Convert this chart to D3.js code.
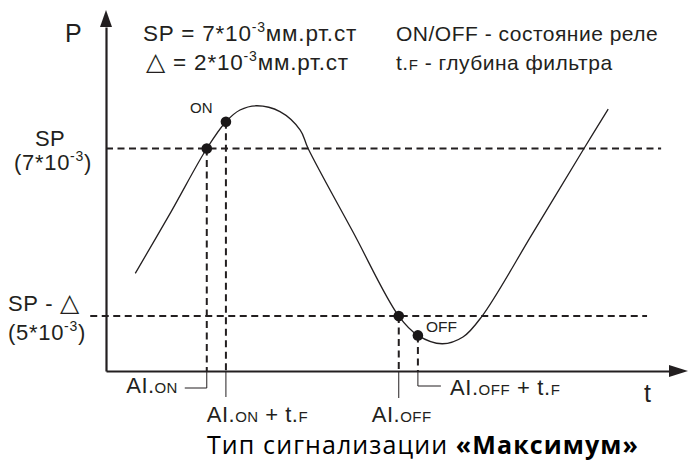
<!DOCTYPE html>
<html>
<head>
<meta charset="utf-8">
<script src="https://cdn.jsdelivr.net/npm/d3@7"></script>
<style>
    html, body { margin: 0; padding: 0; background: #fff; }
    svg text { font-family: "Liberation Sans", Arial, sans-serif; fill: #231f20; }
    .axis path { stroke: #231f20; stroke-width: 2.2; fill: none; }
    .dash { stroke: #231f20; stroke-width: 2; stroke-dasharray: 7,4.5; fill: none; }
    .leader { stroke: #231f20; stroke-width: 1; fill: none; }
    .signal { stroke: #231f20; stroke-width: 1.3; fill: none; }
</style>
</head>
<body>
<div id="chart"></div>
<script>
// Time axis (arbitrary units) and pressure axis (units of 10^-3 mm Hg)
var T_RANGE = [0, 10];
var P_RANGE = [4.345, 8.45];

var SP = 7;
var DELTA = 2;

// Pressure curve
var curveT = [0.52, 1.16, 1.79, 2.13, 2.38, 2.68, 3.09, 3.45, 3.59, 4.39, 5.20, 5.54, 5.97, 6.34, 6.68, 7.58, 8.49, 8.92];
var curveP = [5.51, 6.25, 7.00, 7.32, 7.46, 7.51, 7.44, 7.22, 7.00, 6.00, 5.00, 4.77, 4.67, 4.75, 5.00, 5.99, 7.00, 7.47];

// Switch points: threshold crossing and crossing + filter depth
var eventT = [1.79, 2.13, 5.20, 5.54];
var eventP = [7.00, 7.32, 5.00, 4.77];

// Extent of the dashed threshold lines (time units)
var spLineT = [0, 9.86];
var lowLineT = [-0.28, 9.61];

var width = 688,
    height = 466,
    plot = { left: 106, right: 669, top: 27, bottom: 371 };

var x = d3.scaleLinear().domain(T_RANGE).range([plot.left, plot.right]),
    y = d3.scaleLinear().domain(P_RANGE).range([plot.bottom, plot.top]);

var svg = d3.select('#chart')
    .append('svg')
        .attr('width', width)
        .attr('height', height);

/*
 * GUIDES
 */
svg.append('line')
    .attr('class', 'dash')
    .attr('x1', x(spLineT[0])).attr('x2', x(spLineT[1]))
    .attr('y1', y(SP)).attr('y2', y(SP));

svg.append('line')
    .attr('class', 'dash')
    .attr('x1', x(lowLineT[0])).attr('x2', x(lowLineT[1]))
    .attr('y1', y(SP - DELTA)).attr('y2', y(SP - DELTA));

// Drop lines from every switch point to the time axis
svg.selectAll('.drop')
    .data(eventT)
    .enter().append('line')
        .attr('class', 'dash drop')
        .attr('x1', function (d) { return x(d); })
        .attr('x2', function (d) { return x(d); })
        .attr('y1', function (d, i) { return y(eventP[i]); })
        .attr('y2', plot.bottom);

// Label leaders under the axis
var leaderLen = [17, 26, 27, 15],
    leaderHook = [-22, 0, 0, 23];

svg.selectAll('.leader')
    .data(eventT)
    .enter().append('path')
        .attr('class', 'leader')
        .attr('d', function (d, i) {
            var px = x(d), py = plot.bottom + leaderLen[i];
            var p = 'M' + px + ',' + plot.bottom + 'V' + py;
            if (leaderHook[i]) p += 'H' + (px + leaderHook[i]);
            return p;
        });

/*
 * AXES
 */
svg.append('g')
    .attr('class', 'x axis')
    .attr('transform', 'translate(0,' + plot.bottom + ')')
    .call(d3.axisBottom(x).ticks(0).tickSizeOuter(0));

svg.append('g')
    .attr('class', 'y axis')
    .attr('transform', 'translate(' + plot.left + ',0)')
    .call(d3.axisLeft(y).ticks(0).tickSizeOuter(0));

svg.append('path')
    .attr('d', 'M' + plot.right + ',' + (plot.bottom - 6) + 'L' + (plot.right + 19) + ',' + plot.bottom +
               'L' + plot.right + ',' + (plot.bottom + 6) + 'Z')
    .attr('fill', '#231f20');

svg.append('path')
    .attr('d', 'M' + (plot.left - 6) + ',' + plot.top + 'L' + plot.left + ',' + (plot.top - 17) +
               'L' + (plot.left + 6) + ',' + plot.top + 'Z')
    .attr('fill', '#231f20');

/*
 * SIGNAL
 */
var line = d3.line()
    .x(function (d) { return x(d[0]); })
    .y(function (d) { return y(d[1]); })
    .curve(d3.curveCatmullRom.alpha(0.5));

svg.append('path')
    .attr('class', 'signal')
    .attr('d', line(d3.zip(curveT, curveP)));

svg.selectAll('.dot')
    .data(eventT)
    .enter().append('circle')
        .attr('class', 'dot')
        .attr('cx', function (d) { return x(d); })
        .attr('cy', function (d, i) { return y(eventP[i]); })
        .attr('r', 5.3)
        .attr('fill', '#1a1718');

/*
 * TEXTS
 */
function label(px, py, parts, size, anchor, spacing) {
    var t = svg.append('text')
        .attr('x', px)
        .attr('y', py)
        .attr('font-size', size)
        .attr('text-anchor', anchor || 'start')
        .attr('letter-spacing', spacing || 0);
    parts.forEach(function (p) {
        var s = t.append('tspan').text(p[0]);
        if (p[1]) s.attr('font-size', p[1]);
        if (p[2]) s.attr('dy', p[2]);
        if (p[3]) s.attr('font-family', p[3]);
    });
    return t;
}

// Axis names
label(65, 42, [['P']], 25);
label(644, 402, [['t']], 25);

// Header
label(143, 41, [['SP = 7*10'], ['-3', 14, -9], ['мм.рт.ст', null, 9]], 22.5, 'start', 0.8);
label(146, 70, [['△', 25, 0, 'DejaVu Sans'], [' = 2*10'], ['-3', 14, -9], ['мм.рт.ст', null, 9]], 22.5, 'start', 0.8);
label(396, 41, [['ON/OFF - состояние реле']], 21, 'start', 0.5);
label(396, 70, [['t.'], ['F', 15], [' - глубина фильтра']], 21, 'start', 0.5);

// Threshold labels
label(50, 146, [['SP']], 22, 'middle', 0.3);
label(14, 170, [['(7*10'], ['-3', 14, -9], [')', null, 9]], 22, 'start', 0.7);
label(8, 311, [['SP - '], ['△', 25, 0, 'DejaVu Sans']], 22, 'start', 0.7);
label(8, 340, [['(5*10'], ['-3', 14, -9], [')', null, 9]], 22, 'start', 0.7);

// State labels near the points
label(190, 113, [['ON']], 15);
label(426, 332, [['OFF']], 15.5);

// Axis event labels
label(x(eventT[0]) - 29, 393, [['AI.'], ['ON', 15]], 22, 'end', 0.4);
label(x(eventT[0]), 422, [['AI.'], ['ON', 15], [' + t.'], ['F', 15]], 22, 'start', 0.5);
label(x(eventT[2]) - 27, 422, [['AI.'], ['OFF', 15]], 22, 'start', 0.5);
label(x(eventT[3]) + 32, 395, [['AI.'], ['OFF', 15], [' + t.'], ['F', 15]], 22, 'start', 0.6);

// Caption
var cap = svg.append('text')
    .attr('x', 207)
    .attr('y', 454)
    .attr('font-size', 25)
    .attr('letter-spacing', 1.1)
    .style('font-family', '"Open Sans", sans-serif')
    .style('fill', '#000');
cap.append('tspan').text('Тип сигнализации ');
cap.append('tspan').attr('font-weight', 'bold').text('«Максимум»');
</script>
</body>
</html>
